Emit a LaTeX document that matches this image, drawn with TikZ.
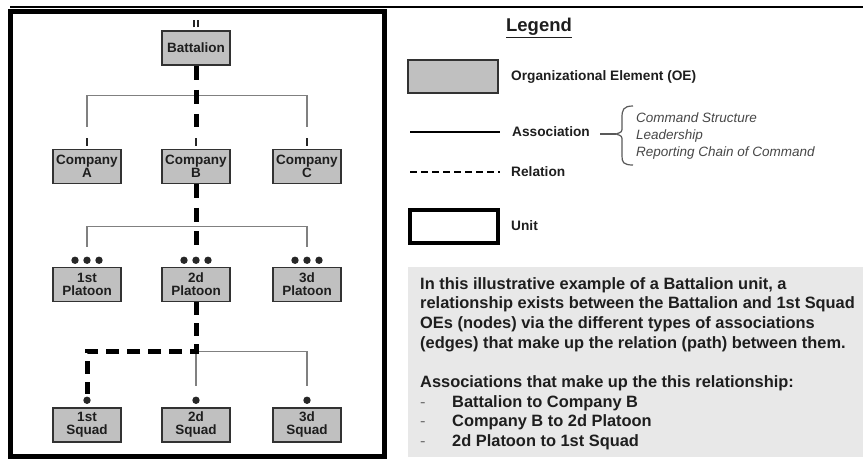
\documentclass[tikz,border=0pt]{standalone}
\usepackage{fontspec}
\setmainfont{Liberation Sans}
\usetikzlibrary{calc}
\definecolor{oefill}{RGB}{192,192,192}
\definecolor{oeline}{RGB}{50,50,50}
\definecolor{assocgray}{RGB}{128,128,128}
\definecolor{notebg}{RGB}{232,232,232}
\definecolor{txt}{RGB}{30,30,30}
\newcommand\noteitem[1]{\makebox[32pt][l]{\mdseries\textcolor{black!55}{-}}#1}
\begin{document}
\begin{tikzpicture}[x=1pt,y=-1pt,
  oe/.style={draw=oeline, line width=1.5pt, fill=oefill, minimum width=68pt,
    minimum height=34pt, inner sep=0pt, align=center,
    font=\fontsize{13.5}{13}\selectfont\bfseries, text=txt},
  assoc/.style={draw=assocgray, line width=1.3pt},
  rel/.style={draw=black, line width=5pt, dash pattern=on 13pt off 8pt, line join=miter},
  ech/.style={draw=black!85, line width=1.5pt},
  dotm/.style={fill=black!85},
  lbl/.style={anchor=west, font=\fontsize{13.7}{15}\selectfont\bfseries, text=txt, inner sep=0pt},
]
\useasboundingbox (0,0) rectangle (863,459);

% frame lines
\draw[black, line width=2pt] (10,6.5) -- (863,6.5);
\node[draw=black, line width=5pt, minimum width=374pt, minimum height=445.5pt, inner sep=0pt] (unitbox) at (197.5,233.75) {};

% org nodes
\node[oe] (bat) at (196,48) {Battalion};
\node[oe] (coA) at (87,166.5) {Company\\A};
\node[oe] (coB) at (196,166.5) {Company\\B};
\node[oe] (coC) at (307,166.5) {Company\\C};
\node[oe] (plA) at (87,284.5) {1st\\Platoon};
\node[oe] (plB) at (196,284.5) {2d\\Platoon};
\node[oe] (plC) at (307,284.5) {3d\\Platoon};
\node[oe] (sqA) at (87,425) {1st\\Squad};
\node[oe] (sqB) at (196,425) {2d\\Squad};
\node[oe] (sqC) at (307,425) {3d\\Squad};

% echelon marks
\draw[ech] ($(bat.north)+(-1.8,-3)$) -- ++(0,-7.5);
\draw[ech] ($(bat.north)+(1.8,-3)$) -- ++(0,-7.5);
\foreach \n in {coA,coB,coC}{
  \draw[ech] ($(\n.north)+(0,-3)$) -- ++(0,-8);
}
\foreach \n in {plA,plB,plC}{
  \foreach \dx in {-12,0,12}{
    \fill[dotm] ($(\n.north)+(\dx,-6.5)$) circle (3.7pt);
  }
}
\foreach \n in {sqA,sqB,sqC}{
  \fill[dotm] ($(\n.north)+(0,-7)$) circle (3.7pt);
}

% associations (thin)
\draw[assoc] ($(coA.north)+(0,-22)$) -- ++(0,-31) -- ($(coC.north)+(0,-53)$) -- ($(coC.north)+(0,-22)$);
\draw[assoc] ($(plA.north)+(0,-20)$) -- ++(0,-20) -- ($(plC.north)+(0,-40)$) -- ($(plC.north)+(0,-20)$);
\coordinate (sqHub) at ($(plB.south)+(0,49)$);
\draw[assoc] (sqHub) -| ($(sqC.north)+(0,-21)$);
\draw[assoc] (sqHub) -- ($(sqB.north)+(0,-21)$);

% relation (thick dashed)
\draw[rel, dash pattern=on 14pt off 10pt] (bat.south) -- ($(coB.north)+(0,-22)$);
\draw[rel, dash pattern=on 14pt off 9.5pt] (coB.south) -- ($(plB.north)+(0,-22)$);
\draw[rel] (plB.south) -- (sqHub) -| ($(sqA.north)+(0,-13)$);

% legend
\node[font=\fontsize{18.5}{20}\selectfont\bfseries, text=txt, inner sep=0pt] (lgTitle) at (539,28) {\underline{Legend}};
\node[oe, minimum width=90pt, minimum height=33pt] (lgOE) at (453,76.5) {};
\node[lbl] (lgOEt) at (511,77) {Organizational Element (OE)};
\coordinate (lgA1) at (410,132);
\coordinate (lgA2) at (500,132);
\draw[black, line width=2pt] (lgA1) -- (lgA2);
\node[lbl] (lgAt) at (512,132) {Association};
\coordinate (lgR1) at (410,172);
\coordinate (lgR2) at (500,172);
\draw[black, line width=2pt, dash pattern=on 7pt off 4pt] (lgR1) -- (lgR2);
\node[lbl] (lgRt) at (511,172) {Relation};
\node[draw=black, line width=4pt, minimum width=88pt, minimum height=33pt, inner sep=0pt] (lgU) at (454,226.5) {};
\node[lbl] (lgUt) at (511,226) {Unit};

% brace
\coordinate (brL) at (600,134);
\coordinate (brT) at (616,134);
\draw[black!65, line width=1.2pt] (brL) -- (brT);
\draw[black!65, line width=1.2pt] (633,106) .. controls (623,106) and (622,110) .. (622,118)
  -- (622,127) .. controls (622,132) .. (616,134) .. controls (622,136) .. (622,141)
  -- (622,156) .. controls (622,162) and (623,165) .. (633,165);
\node[anchor=north west, align=left, inner sep=0pt, font=\fontsize{13.5}{17}\selectfont\itshape, text=black!72] (lgItal) at (636,113)
  {Command Structure\\Leadership\\Reporting Chain of Command};

% note box
\fill[notebg] (408,267) rectangle (863,457);
\node[anchor=north west, align=left, inner sep=0pt, font=\fontsize{16.4}{19.7}\selectfont\bfseries, text=txt] (note) at (420,277)
  {In this illustrative example of a Battalion unit, a\\
   relationship exists between the Battalion and 1st Squad\\
   OEs (nodes) via the different types of associations\\
   (edges) that make up the relation (path) between them.\\[19.7pt]
   Associations that make up the this relationship:\\
   \noteitem{Battalion to Company B}\\
   \noteitem{Company B to 2d Platoon}\\
   \noteitem{2d Platoon to 1st Squad}};
\end{tikzpicture}
\end{document}
